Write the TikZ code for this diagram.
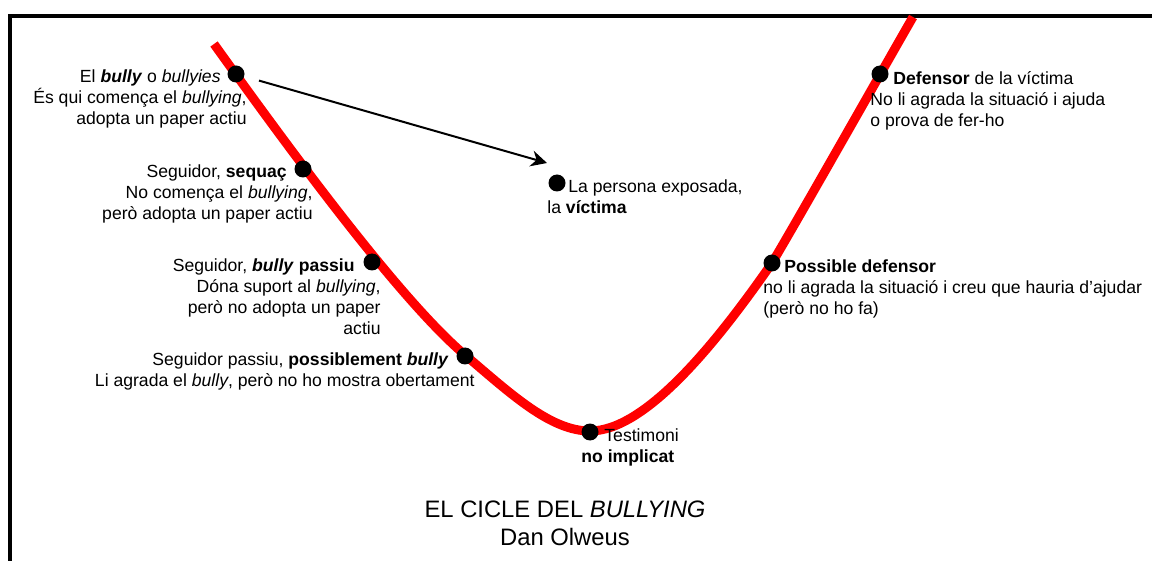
\documentclass[tikz,border=0pt]{standalone}
\usepackage{fontspec}
\setmainfont{Liberation Sans}
\usetikzlibrary{arrows.meta}
\begin{document}
\begin{tikzpicture}[x=0.5pt,y=-0.5pt,
  dot/.style={circle,fill=black,inner sep=0pt,minimum size=8.5pt},
  lbl/.style={inner sep=0pt,font=\fontsize{8.8}{10.5}\selectfont}]
  \useasboundingbox (0,0) rectangle (1152,561);
  \draw[line width=2pt] (10,561)--(10,16)--(1152,16);
  % the cycle curve
  \draw[red,line width=4.5pt] (214,44) .. controls (290,150) and (400,300) .. (465,355)
    .. controls (510,393) and (550,431) .. (590,431)
    .. controls (645,431) and (715,345) .. (772,263)
    .. controls (800,216) and (895,48) .. (913,17);
  % dots on the curve
  \node[dot] (bully) at (236,74) {};
  \node[dot] (sequac) at (303,169) {};
  \node[dot] (passiu) at (372,262) {};
  \node[dot] (possible) at (465,356) {};
  \node[dot] (testimoni) at (590,432) {};
  \node[dot] (posdef) at (772,263) {};
  \node[dot] (defensor) at (880,74) {};
  \node[dot] (victima) at (557,183) {};
  \coordinate (arrtip) at (547,163);
  \draw[line width=1pt,-{Stealth[length=8pt,width=8pt]},shorten <=7.5pt] (bully)--(arrtip);
  % labels
  \node[lbl,anchor=north east,align=right] (bullytxt) at (247,69) {El \textbf{\textit{bully}} o \textit{bullyies}\hspace*{13pt}\\És qui comença el \textit{bullying},\\adopta un paper actiu};
  \node[lbl,anchor=north east,align=right] (sequactxt) at (313,164) {Seguidor, \textbf{sequaç}\hspace*{13pt}\\No comença el \textit{bullying},\\però adopta un paper actiu};
  \node[lbl,anchor=north east,align=right] (passiutxt) at (381,258) {Seguidor, \textbf{\textit{bully} passiu}\hspace*{13pt}\\Dóna suport al \textit{bullying},\\però no adopta un paper\\actiu};
  \node[lbl,anchor=north east,align=right] (possibletxt) at (475,352) {Seguidor passiu, \textbf{possiblement \textit{bully}}\hspace*{13pt}\\Li agrada el \textit{bully}, però no ho mostra obertament};
  \node[lbl,anchor=north west,align=left] (victimatxt) at (547,179) {\hspace*{10.5pt}La persona exposada,\\la \textbf{víctima}};
  \node[lbl,anchor=north west,align=left] (defensortxt) at (870,71) {\hspace*{11.5pt}\textbf{Defensor} de la víctima\\No li agrada la situació i ajuda\\o prova de fer-ho};
  \node[lbl,anchor=north west,align=left] (posdeftxt) at (763,259) {\hspace*{10.5pt}\textbf{Possible defensor}\\no li agrada la situació i creu que hauria d’ajudar\\(però no ho fa)};
  \node[lbl,anchor=north west,align=left] (testimonitxt) at (581,428) {\hspace*{11.5pt}Testimoni\\\textbf{no implicat}};
  \node[inner sep=0pt,anchor=north,align=center,font=\fontsize{11.9}{14}\selectfont] (title) at (565,500) {EL CICLE DEL \textit{BULLYING}\\Dan Olweus};
\end{tikzpicture}
\end{document}
